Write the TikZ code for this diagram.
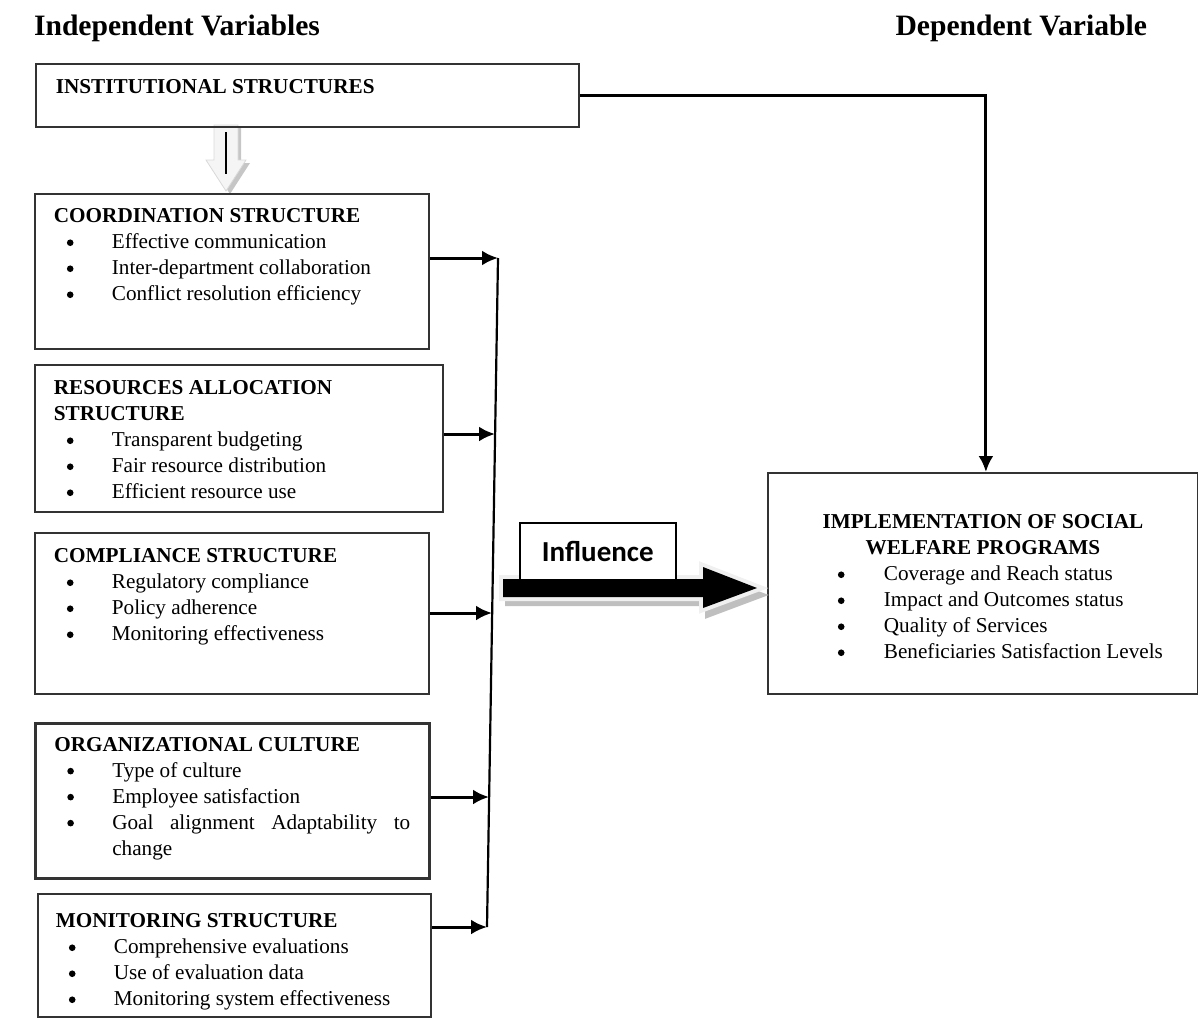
\documentclass[tikz,border=0pt]{standalone}
\usepackage{fontspec}
\setmainfont{Liberation Serif}
\newfontfamily\calfont{Carlito}
\usetikzlibrary{arrows.meta}

% bullet lines inside the boxes
\newcommand{\dotmark}{\tikz[baseline=0pt]{\fill (0pt,3.1pt) circle (1.65pt);}}
\newcommand{\bul}[1]{\par\noindent\hangindent=29pt\hangafter=1\hspace*{6.5pt}\makebox[22.5pt][l]{\dotmark}#1}
\newcommand{\rbul}[1]{\par\noindent\hangindent=48.5pt\hangafter=1\hspace*{25.5pt}\makebox[23pt][l]{\dotmark}#1}

\begin{document}
\begin{tikzpicture}[x=0.5pt,y=-0.5pt,
	varbox/.style={draw=black!80, line width=0.9pt, anchor=north west, inner xsep=9.5pt, inner ysep=0pt, font=\fontsize{10.6}{13}\selectfont},
	link/.style={-{Latex[length=8pt,width=7.5pt]}, line width=1.5pt},
	head/.style={font=\fontsize{14.8}{17}\selectfont\bfseries}]
	\useasboundingbox (0,0) rectangle (1198,1017);

	\node[head, anchor=base west] (indep) at (27,35) {Independent Variables};
	\node[head, anchor=base east] (dep) at (1154,35) {Dependent Variable};

	% hollow arrow under the first box
	\fill[gray!45] (218,127) -- (241,127) -- (241,163) -- (250,163) -- (230,194) -- (210,163) -- (218,163) -- cycle;
	\filldraw[fill=gray!8, draw=gray!30, line width=0.4pt] (214,125) -- (238,125) -- (238,160) -- (246,160) -- (226,191) -- (206,160) -- (214,160) -- cycle;
	\draw[line width=0.7pt] (226,132) -- (226,174);

	\node[varbox, inner xsep=10pt] (inst) at (35,63) {\parbox[c][31.5pt][t]{251.5pt}{\vspace*{8pt}\textbf{INSTITUTIONAL STRUCTURES}}};

	\node[varbox] (coord) at (34,193) {\parbox[c][77.5pt][t]{178pt}{\vspace*{7.5pt}\textbf{COORDINATION STRUCTURE}
		\bul{Effective communication}
		\bul{Inter-department collaboration}
		\bul{Conflict resolution efficiency}}};
	\node[varbox] (res) at (34,364) {\parbox[c][73.5pt][t]{185pt}{\vspace*{8pt}\textbf{RESOURCES ALLOCATION\\ STRUCTURE}
		\bul{Transparent budgeting}
		\bul{Fair resource distribution}
		\bul{Efficient resource use}}};
	\node[varbox] (comp) at (34,532) {\parbox[c][80.5pt][t]{178pt}{\vspace*{8pt}\textbf{COMPLIANCE STRUCTURE}
		\bul{Regulatory compliance}
		\bul{Policy adherence}
		\bul{Monitoring effectiveness}}};
	\node[varbox, line width=1.3pt] (cult) at (34,722) {\parbox[c][77.5pt][t]{178pt}{\tolerance=10000\vspace*{7pt}\textbf{ORGANIZATIONAL CULTURE}
		\bul{Type of culture}
		\bul{Employee satisfaction}
		\bul{Goal alignment Adaptability to change}}};
	\node[varbox, inner xsep=9pt] (mon) at (37,893) {\parbox[c][61.5pt][t]{178.5pt}{\vspace*{10pt}\textbf{MONITORING STRUCTURE}
		\bul{Comprehensive evaluations}
		\bul{Use of evaluation data}
		\bul{Monitoring system effectiveness}}};

	\node[varbox] (rslt) at (767,472) {\parbox[c][110.5pt][t]{196pt}{\vspace*{21pt}{\centering\bfseries IMPLEMENTATION OF SOCIAL\\ WELFARE PROGRAMS\par}
		\rbul{Coverage and Reach status}
		\rbul{Impact and Outcomes status}
		\rbul{Quality of Services}
		\rbul{Beneficiaries Satisfaction Levels}}};

	% collecting line
	\coordinate (v1) at (498,258);
	\coordinate (v2) at (495,434);
	\coordinate (v3) at (492,613);
	\coordinate (v4) at (489,797);
	\coordinate (v5) at (487,927);
	\draw[line width=1.1pt] (v1) -- (v5);

	\draw[link] (coord.east |- v1) -- (v1);
	\draw[link] (res.east |- v2) -- (v2);
	\draw[link] (comp.east |- v3) -- (v3);
	\draw[link] (cult.east |- v4) -- (v4);
	\draw[link] (mon.east |- v5) -- (v5);

	\draw[link] (inst.east) -| ([xshift=1.5pt]rslt.north);

	% big arrow
	\filldraw[fill=gray!50, draw=gray!50, line width=2pt, line join=miter] (507,586) -- (707,586) -- (707,574) -- (763,595) -- (707,616) -- (707,604) -- (507,604) -- cycle;
	\draw[draw=gray!12, line width=4pt, line join=miter] (503,579) -- (703,579) -- (703,567) -- (757,588) -- (703,608) -- (703,597) -- (503,597) -- cycle;
	\fill[black] (503,579) -- (703,579) -- (703,567) -- (757,588) -- (703,608) -- (703,597) -- (503,597) -- cycle;
	\node[draw, line width=0.8pt, fill=white, anchor=north west, minimum width=78pt, minimum height=28.5pt, inner sep=0pt, font=\calfont\bfseries\fontsize{14.5}{17}\selectfont] (infl) at (519,522) {Influence};
\end{tikzpicture}
\end{document}
